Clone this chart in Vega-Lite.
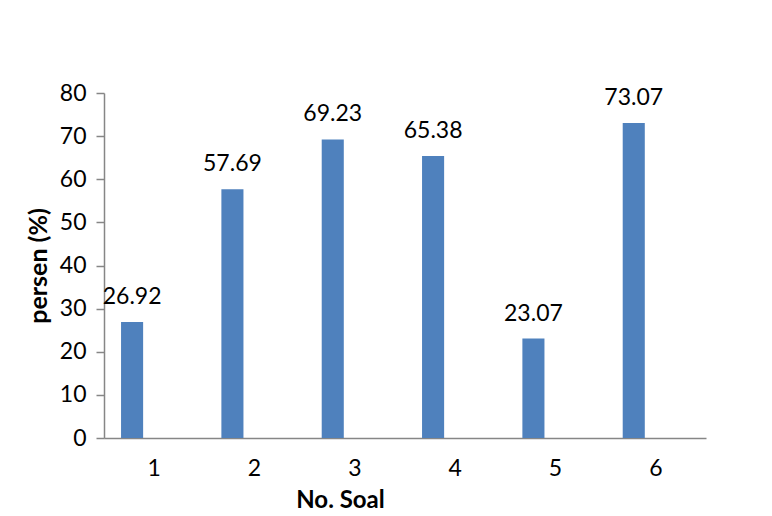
{
  "$schema": "https://vega.github.io/schema/vega-lite/v6.json",
  "width": 602,
  "height": 345,
  "autosize": {"type": "none"},
  "padding": {"left": 104, "top": 93, "right": 66, "bottom": 78},
  "background": "white",
  "config": {"view": {"stroke": null}, "font": "Lato"},
  "data": {
    "values": [
      {"soal": "1", "persen": 26.92, "seri": "A"},
      {"soal": "2", "persen": 57.69, "seri": "A"},
      {"soal": "3", "persen": 69.23, "seri": "A"},
      {"soal": "4", "persen": 65.38, "seri": "A"},
      {"soal": "5", "persen": 23.07, "seri": "A"},
      {"soal": "6", "persen": 73.07, "seri": "A"}
    ]
  },
  "encoding": {
    "x": {
      "field": "soal",
      "type": "ordinal",
      "scale": {"paddingInner": 0, "paddingOuter": 0},
      "axis": {
        "title": "No. Soal",
        "titleFontSize": 24,
        "titleFontWeight": "bold",
        "titleColor": "#000000",
        "titlePadding": 8,
        "titleX": 236,
        "titleAlign": "center",
        "labelAngle": 0,
        "labelFontSize": 23,
        "labelColor": "#000000",
        "labelPadding": 19,
        "ticks": false,
        "tickSize": 0,
        "domainColor": "#868686",
        "domainWidth": 1.5,
        "grid": false
      }
    },
    "xOffset": {
      "field": "seri",
      "type": "nominal",
      "scale": {"domain": ["A", "B"], "paddingInner": 0.5, "paddingOuter": 0.386}
    },
    "y": {
      "field": "persen",
      "type": "quantitative",
      "scale": {"domain": [0, 80], "nice": false},
      "axis": {
        "title": "persen (%)",
        "titleFontSize": 25,
        "titleFontWeight": "bold",
        "titleColor": "#000000",
        "titlePadding": 8,
        "values": [0, 10, 20, 30, 40, 50, 60, 70, 80],
        "labelFontSize": 23,
        "labelColor": "#000000",
        "labelPadding": 10,
        "tickSize": 8,
        "tickColor": "#868686",
        "tickWidth": 1.5,
        "domainColor": "#868686",
        "domainWidth": 1.5,
        "grid": false
      }
    }
  },
  "layer": [
    {"mark": {"type": "bar", "color": "#4F81BD"}},
    {
      "mark": {"type": "text", "dy": -18, "baseline": "alphabetic", "fontSize": 23, "color": "#000000"},
      "encoding": {"text": {"field": "persen", "type": "quantitative", "format": ".2f"}}
    }
  ]
}
